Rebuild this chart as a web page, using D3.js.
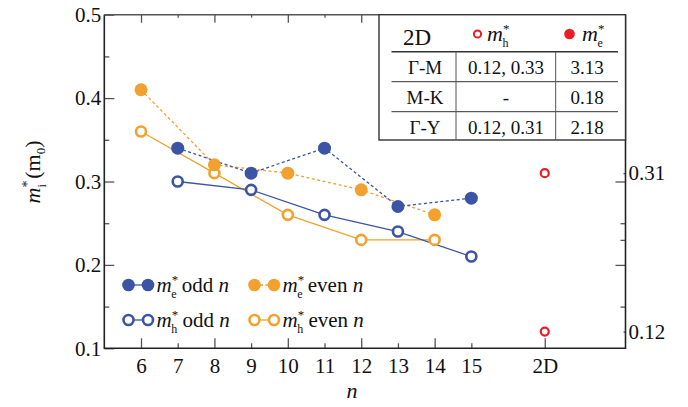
<!DOCTYPE html>
<html>
<head>
<meta charset="utf-8">
<script src="https://cdn.jsdelivr.net/npm/d3@7"></script>
<style>
  body { margin: 0; background: #fff; }
  svg, svg text { font-family: "Liberation Serif", "Times New Roman", serif; }
  text { fill: #111; }
</style>
</head>
<body>
<script>
// data
var evenN = [6, 8, 10, 12, 14];
var oddN = [7, 9, 11, 13, 15];
var meOdd = [0.34, 0.31, 0.34, 0.27, 0.28];
var meEven = [0.41, 0.32, 0.31, 0.29, 0.26];
var mhOdd = [0.30, 0.29, 0.26, 0.24, 0.21];
var mhEven = [0.36, 0.31, 0.26, 0.23, 0.23];
var pos2D = 17;
var mh2D = [0.31, 0.12];
var majorX = [6, 8, 10, 12, 14, 17];
var minorX = [7, 9, 11, 13, 15];
var majorY = [0.1, 0.2, 0.3, 0.4, 0.5];
var minorY = [0.15, 0.25, 0.35, 0.45];
var tableRows = [["\u0393-M", "0.12, 0.33", "3.13"], ["M-K", "-", "0.18"], ["\u0393-Y", "0.12, 0.31", "2.18"]];

var width = 688, height = 407;
var blue = "#3b54a5", orange = "#f2a12e", red = "#ec1c24";
var serif = "'Liberation Serif', 'Times New Roman', serif";

var svg = d3.select("body").append("svg")
  .attr("width", width)
  .attr("height", height)
  .attr("font-family", serif);

var x = d3.scaleLinear().domain([5, 19.2]).range([104.3, 625.5]);
var y = d3.scaleLinear().domain([0.1, 0.5]).range([348.3, 14.7]);

var xLabel = function(d) { return d === pos2D ? "2D" : d; };

//axes
function styleAxis(g) {
  g.attr("font-family", serif);
  g.select(".domain").remove();
  g.selectAll(".tick line").attr("stroke", "#555").attr("stroke-width", 1.3);
  g.selectAll(".tick text").attr("font-size", "21px").attr("fill", "#111");
}

svg.append("g")
  .attr("transform", "translate(0," + y(0.1) + ")")
  .call(d3.axisBottom(x).tickValues(majorX).tickFormat(xLabel).tickSize(-10).tickPadding(10))
  .call(styleAxis);
svg.append("g")
  .attr("transform", "translate(0," + y(0.1) + ")")
  .call(d3.axisBottom(x).tickValues(minorX).tickFormat(xLabel).tickSize(-5).tickPadding(10))
  .call(styleAxis);

svg.append("g")
  .attr("transform", "translate(0," + y(0.5) + ")")
  .call(d3.axisTop(x).tickValues(evenN).tickFormat("").tickSize(-8))
  .call(styleAxis);
svg.append("g")
  .attr("transform", "translate(0," + y(0.5) + ")")
  .call(d3.axisTop(x).tickValues(oddN).tickFormat("").tickSize(-3))
  .call(styleAxis);

svg.append("g")
  .attr("transform", "translate(" + x(5) + ",0)")
  .call(d3.axisLeft(y).tickValues(majorY).tickFormat(d3.format(".1f")).tickSize(-10).tickPadding(3))
  .call(styleAxis);
svg.append("g")
  .attr("transform", "translate(" + x(5) + ",0)")
  .call(d3.axisLeft(y).tickValues(minorY).tickFormat("").tickSize(-5))
  .call(styleAxis);

svg.append("g")
  .attr("transform", "translate(" + x(19.2) + ",0)")
  .call(d3.axisRight(y).tickValues([0.2, 0.3]).tickFormat("").tickSize(-10))
  .call(styleAxis);
svg.append("g")
  .attr("transform", "translate(" + x(19.2) + ",0)")
  .call(d3.axisRight(y).tickValues([0.15, 0.25, 0.23]).tickFormat("").tickSize(-5))
  .call(styleAxis);
svg.append("g")
  .attr("transform", "translate(" + x(19.2) + ",0)")
  .call(d3.axisRight(y).tickValues(mh2D).tickFormat(d3.format(".2f")).tickSize(-2).tickPadding(3))
  .call(styleAxis);

//frame
svg.append("path")
  .attr("d", "M" + x(5) + "," + y(0.5) + "V" + y(0.1) + "H" + x(19.2) + "V" + y(0.5))
  .attr("fill", "none")
  .attr("stroke", "#222")
  .attr("stroke-width", 1.6);
svg.append("line")
  .attr("x1", x(5)).attr("x2", x(19.2))
  .attr("y1", y(0.5)).attr("y2", y(0.5))
  .attr("stroke", "#555")
  .attr("stroke-width", 1.4);

//axis titles
var yt = svg.append("text")
  .attr("transform", "translate(40," + 172 + ") rotate(-90)")
  .attr("text-anchor", "middle")
  .attr("font-size", "22px");
yt.append("tspan").attr("font-style", "italic").text("m");
yt.append("tspan").attr("font-size", "14px").attr("dy", -8).text("*");
yt.append("tspan").attr("font-size", "12px").attr("dx", -7).attr("dy", 14).text("i");
yt.append("tspan").attr("dy", -6).text(" (m");
yt.append("tspan").attr("font-size", "13px").attr("dy", 5).text("0");
yt.append("tspan").attr("dy", -5).text(")");

svg.append("text")
  .attr("x", 352)
  .attr("y", 398)
  .attr("text-anchor", "middle")
  .attr("font-size", "22px")
  .attr("font-style", "italic")
  .text("n");

//series
function lineFor(xs, vals) {
  return d3.line()
    .x(function(d, i) { return x(xs[i]); })
    .y(function(d) { return y(d); })(vals);
}

var series = [
  { xs: evenN, vals: mhEven, color: orange, dash: null, open: true },
  { xs: oddN, vals: mhOdd, color: blue, dash: null, open: true },
  { xs: evenN, vals: meEven, color: orange, dash: "3,2.5", open: false },
  { xs: oddN, vals: meOdd, color: blue, dash: "3,2.5", open: false }
];

series.forEach(function(s) {
  svg.append("path")
    .attr("d", lineFor(s.xs, s.vals))
    .attr("fill", "none")
    .attr("stroke", s.color)
    .attr("stroke-width", 1.3)
    .attr("stroke-dasharray", s.dash);
});

series.forEach(function(s) {
  svg.selectAll(null)
    .data(s.vals)
    .enter()
    .append("circle")
    .attr("cx", function(d, i) { return x(s.xs[i]); })
    .attr("cy", function(d) { return y(d); })
    .attr("r", s.open ? 5 : 6.5)
    .attr("fill", s.open ? "#fff" : s.color)
    .attr("stroke", s.open ? s.color : "none")
    .attr("stroke-width", 2.6);
});

svg.selectAll(null)
  .data(mh2D)
  .enter()
  .append("circle")
  .attr("cx", x(pos2D))
  .attr("cy", function(d) { return y(d); })
  .attr("r", 4)
  .attr("fill", "#fff")
  .attr("stroke", red)
  .attr("stroke-width", 2.2);

//legend
function massLabel(g, tx, ty, sub, rest, fs) {
  var t = g.append("text").attr("x", tx).attr("y", ty).attr("font-size", fs);
  t.append("tspan").attr("font-style", "italic").text("m");
  t.append("tspan").attr("font-size", "13px").attr("dy", -8).text("*");
  t.append("tspan").attr("font-size", "12px").attr("dx", -7).attr("dy", 14).text(sub);
  if (rest) {
    t.append("tspan").attr("dy", -6).text(" " + rest + " ");
    t.append("tspan").attr("font-style", "italic").text("n");
  }
  return t;
}

var legendItems = [
  { lx: 128.5, ly: 285, color: blue, open: false, dash: null, sub: "e", rest: "odd" },
  { lx: 254.5, ly: 285, color: orange, open: false, dash: "3,2.5", sub: "e", rest: "even" },
  { lx: 128.5, ly: 320, color: blue, open: true, dash: null, sub: "h", rest: "odd" },
  { lx: 254.5, ly: 320, color: orange, open: true, dash: null, sub: "h", rest: "even" }
];

legendItems.forEach(function(l) {
  svg.append("line")
    .attr("x1", l.lx).attr("x2", l.lx + 19.5)
    .attr("y1", l.ly).attr("y2", l.ly)
    .attr("stroke", l.color)
    .attr("stroke-width", 1.3)
    .attr("stroke-dasharray", l.dash);
  [l.lx, l.lx + 19.5].forEach(function(cx) {
    svg.append("circle")
      .attr("cx", cx).attr("cy", l.ly)
      .attr("r", l.open ? 5 : 6.3)
      .attr("fill", l.open ? "#fff" : l.color)
      .attr("stroke", l.open ? l.color : "none")
      .attr("stroke-width", 2.6);
  });
  massLabel(svg, l.lx + 28, l.ly + 7, l.sub, l.rest, "21px");
});

//table
var tb = svg.append("g");
tb.append("rect")
  .attr("x", 379).attr("y", y(0.5))
  .attr("width", x(19.2) - 379).attr("height", 140 - y(0.5))
  .attr("fill", "#fff")
  .attr("stroke", "#333")
  .attr("stroke-width", 1.4);

tb.append("text")
  .attr("x", 417).attr("y", 45)
  .attr("text-anchor", "middle")
  .attr("font-size", "23px")
  .text("2D");

tb.append("circle").attr("cx", 477.5).attr("cy", 34).attr("r", 3.6)
  .attr("fill", "#fff").attr("stroke", red).attr("stroke-width", 2);
massLabel(tb, 487, 41, "h", null, "22px");
tb.append("circle").attr("cx", 569.5).attr("cy", 34).attr("r", 5.3).attr("fill", red);
massLabel(tb, 582, 41, "e", null, "22px");

var rowLines = [51.7, 81.7, 111.7];
rowLines.forEach(function(ly, i) {
  tb.append("line")
    .attr("x1", 391.5).attr("x2", 618)
    .attr("y1", ly).attr("y2", ly)
    .attr("stroke", "#333")
    .attr("stroke-width", i === 0 ? 1.4 : 1);
});
[456, 555.7].forEach(function(lx) {
  tb.append("line")
    .attr("x1", lx).attr("x2", lx)
    .attr("y1", 51.7).attr("y2", 140)
    .attr("stroke", "#555")
    .attr("stroke-width", 1);
});

var colX = [425, 506, 587];
tableRows.forEach(function(row, r) {
  row.forEach(function(cell, c) {
    tb.append("text")
      .attr("x", colX[c])
      .attr("y", 74 + r * 30)
      .attr("text-anchor", "middle")
      .attr("font-size", "19px")
      .text(cell);
  });
});
</script>
</body>
</html>
